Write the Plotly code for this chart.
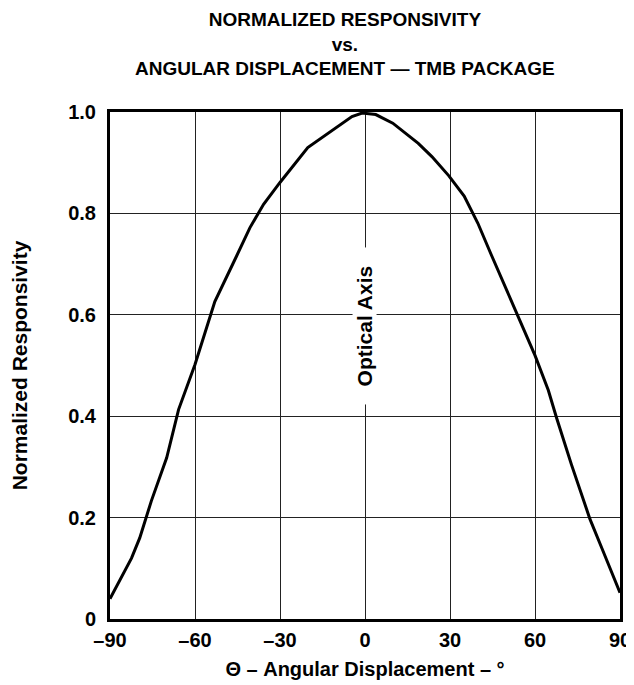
import plotly.graph_objects as go

# Data
angle = [-90, -82.4, -79.5, -75.4, -70, -65.8, -60, -53, -45.4, -40.6, -35.8, -30,
         -20.2, -10.6, -4.6, -1, 3.8, 9.8, 18.8, 23.6, 29.6, 35, 39.8, 44.6, 51.8,
         60, 64.7, 67.6, 72.9, 79.4, 83.5, 90]
responsivity = [0.04, 0.12, 0.16, 0.233, 0.318, 0.413, 0.502, 0.626, 0.715, 0.772, 0.818, 0.861,
                0.93, 0.967, 0.991, 0.998, 0.995, 0.978, 0.938, 0.912, 0.874, 0.834, 0.781, 0.718, 0.626,
                0.52, 0.451, 0.397, 0.304, 0.197, 0.141, 0.052]

x_ticks = [-90, -60, -30, 0, 30, 60, 90]
x_tick_labels = ["\u201390", "\u201360", "\u201330", "0", "30", "60", "90"]
y_ticks = [0, 0.2, 0.4, 0.6, 0.8, 1.0]
y_tick_labels = ["0", "0.2", "0.4", "0.6", "0.8", "1.0"]

FONT = "Liberation Sans, Arial, Helvetica, sans-serif"

fig = go.Figure()
fig.add_trace(go.Scatter(x=angle, y=responsivity, mode="lines",
                         line=dict(color="black", width=3), showlegend=False,
                         hoverinfo="skip"))

# Optical axis label, with a white box interrupting the grid lines
fig.add_annotation(x=0, y=0.578, xref="x", yref="y",
                   text="<b>\u00a0\u00a0\u00a0Optical Axis\u00a0\u00a0\u00a0</b>",
                   textangle=-90, showarrow=False, bgcolor="white", borderpad=0,
                   font=dict(family=FONT, size=21, color="black"))

# Chart title (three lines)
fig.add_annotation(xref="paper", yref="paper", x=0.461, y=1, xanchor="center", yanchor="bottom",
                   yshift=31, showarrow=False,
                   text="<b>NORMALIZED RESPONSIVITY<br>vs.<br>ANGULAR DISPLACEMENT \u2014 TMB PACKAGE</b>",
                   font=dict(family=FONT, size=19, color="black"))

fig.update_layout(
    width=634, height=685,
    paper_bgcolor="white", plot_bgcolor="white",
    margin=dict(l=102, r=22, t=104, b=74, autoexpand=False),
    font=dict(family=FONT, color="black"),
)

fig.update_xaxes(range=[-90, 90], tickvals=x_ticks, ticktext=x_tick_labels,
                 showgrid=True, gridcolor="#222", gridwidth=1,
                 showline=True, linecolor="black", linewidth=3, mirror=True,
                 zeroline=False, ticks="", ticklabelstandoff=1, automargin=False,
                 tickfont=dict(family=FONT, size=20, color="black", weight="bold"),
                 title=dict(text="<b>\u0398 \u2013 Angular Displacement \u2013 \u00b0</b>", standoff=12,
                            font=dict(family=FONT, size=20, color="black")))
fig.update_yaxes(range=[0, 1.0], tickvals=y_ticks, ticktext=y_tick_labels,
                 showgrid=True, gridcolor="#222", gridwidth=1,
                 showline=True, linecolor="black", linewidth=3, mirror=True,
                 zeroline=False, ticks="", ticklabelstandoff=7, automargin=False,
                 tickfont=dict(family=FONT, size=20, color="black", weight="bold"),
                 title=dict(text="<b>Normalized Responsivity</b>", standoff=39,
                            font=dict(family=FONT, size=21, color="black")))

fig.write_html("out.html")
